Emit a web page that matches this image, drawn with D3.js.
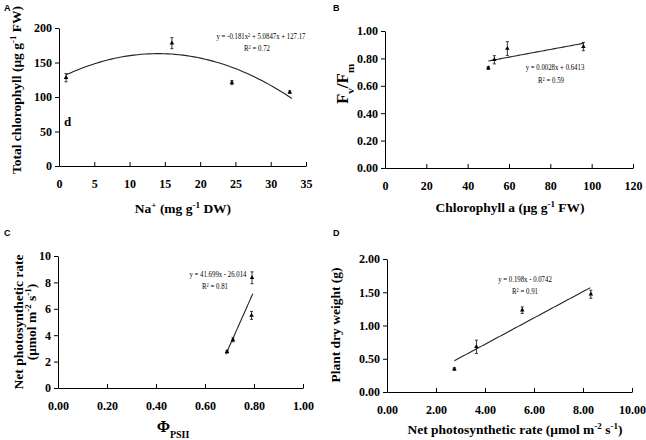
<!DOCTYPE html>
<html><head><meta charset="utf-8">
<script src="https://cdn.jsdelivr.net/npm/d3@7"></script>
<style>
body{margin:0;background:#fff;}
svg{display:block;}
text{font-family:"Liberation Serif","Times New Roman",serif;fill:#000;}
.tick text{font-family:"Liberation Serif","Times New Roman",serif;font-weight:bold;font-size:12px;}
.ttl{font-weight:bold;font-size:13.5px;}
.eq{font-size:8.5px;}
.lbl{font-family:"Liberation Sans",Arial,sans-serif !important;font-weight:bold;font-size:9px;}
</style></head><body>
<script>
// Panel A: Na+ vs total chlorophyll
const aX = [1.0, 16.0, 24.5, 32.7];
const aY = [128, 178, 121, 107];
const aErr = [6, 8, 3, 2];
const aCoef = [-0.181, 5.0847, 127.17];
const aXTicks = [0,5,10,15,20,25,30,35];
const aYTicks = [0,50,100,150,200];
// Panel B: chlorophyll a vs Fv/Fm
const bX = [50.0, 52.9, 59.2, 96.0];
const bY = [0.730, 0.790, 0.872, 0.886];
const bErr = [0.01, 0.03, 0.05, 0.03];
const bCoef = [0.0028, 0.6413];
const bXTicks = [0,20,40,60,80,100,120];
const bYTicks = [0,0.2,0.4,0.6,0.8,1.0];
// Panel C: PhiPSII vs net photosynthetic rate
const cX = [0.69, 0.714, 0.79, 0.792];
const cY = [2.75, 3.65, 5.5, 8.35];
const cErr = [0.1, 0.15, 0.3, 0.45];
const cCoef = [41.699, -26.014];
const cXTicks = [0,0.2,0.4,0.6,0.8,1.0];
const cYTicks = [0,2,4,6,8,10];
// Panel D: net photosynthetic rate vs plant dry weight
const dX = [2.75, 3.65, 5.52, 8.32];
const dY = [0.345, 0.68, 1.23, 1.47];
const dErr = [0.02, 0.1, 0.05, 0.06];
const dCoef = [0.198, -0.0742];
const dXTicks = [0,2,4,6,8,10];
const dYTicks = [0,0.5,1.0,1.5,2.0];

const svg = d3.select("body").append("svg").attr("width",646).attr("height",440);

function addParts(t, parts, supSize){
  parts.forEach(pp=>{
    const s = t.append("tspan").text(pp[0]);
    if(pp[1]==="sup") s.attr("baseline-shift","super").attr("font-size",supSize);
    if(pp[1]==="sub") s.attr("baseline-shift","sub").attr("font-size",supSize);
  });
}

function panel(o){
  const g = svg.append("g");
  const x = d3.scaleLinear().domain(o.xd).range([o.x0,o.x1]);
  const y = d3.scaleLinear().domain(o.yd).range([o.y0,o.y1]);
  const xa = g.append("g").attr("transform",`translate(0,${o.y0})`)
    .call(d3.axisBottom(x).tickValues(o.xt).tickFormat(o.xf).tickSizeInner(-4).tickSizeOuter(0).tickPadding(13));
  xa.attr("font-family",null);
  xa.select(".domain").attr("stroke","#000");
  const ya = g.append("g").attr("transform",`translate(${o.x0},0)`)
    .call(d3.axisLeft(y).tickValues(o.yt).tickFormat(o.yf).tickSizeInner(4).tickSizeOuter(0).tickPadding(3));
  ya.attr("font-family",null);
  ya.select(".domain").attr("stroke","#000");
  const xs = d3.range(0,61).map(i=>o.fx[0]+(o.fx[1]-o.fx[0])*i/60);
  g.append("path").datum(xs)
    .attr("d",d3.line().x(v=>x(v)).y(v=>y(o.fit(v))))
    .attr("fill","none").attr("stroke","#222").attr("stroke-width",1.1);
  const pts = o.px.map((v,i)=>({x:v,y:o.py[i],e:o.pe[i]}));
  const eb = g.append("g").attr("stroke","#222").attr("stroke-width",0.9);
  pts.forEach(p=>{
    eb.append("line").attr("x1",x(p.x)).attr("x2",x(p.x)).attr("y1",y(p.y-p.e)).attr("y2",y(p.y+p.e));
    [p.y-p.e,p.y+p.e].forEach(v=>eb.append("line").attr("x1",x(p.x)-1.5).attr("x2",x(p.x)+1.5).attr("y1",y(v)).attr("y2",y(v)));
  });
  g.selectAll("path.pt").data(pts).join("path").attr("class","pt")
    .attr("d",d3.symbol(d3.symbolTriangle,9))
    .attr("transform",p=>`translate(${x(p.x)},${y(p.y)})`).attr("fill","#000");
  o.eq.forEach(e=>{
    const t = g.append("text").attr("class","eq").attr("text-anchor","middle")
      .attr("transform",`translate(${e.x},${e.y}) scale(0.8,1)`);
    e.parts.forEach(pp=>{
      const s = t.append("tspan").text(pp[0]);
      if(pp[1]) s.attr("baseline-shift","super").attr("font-size","5.5px");
    });
  });
  const xt = g.append("text").attr("class","ttl").attr("text-anchor","middle")
    .attr("x",o.xtp[0]).attr("y",o.xtp[1]);
  if(o.xts) xt.style("font-size",o.xts);
  addParts(xt, o.xtitle, o.xsup || "9px");
  o.ytitle.forEach((line,li)=>{
    const yt = g.append("text").attr("class","ttl").attr("text-anchor","middle")
      .attr("transform",`translate(${o.ytp[0]+li*12.5},${o.ytp[1]}) rotate(-90)`);
    if(o.yts) yt.style("font-size",o.yts);
    addParts(yt, line, o.ysup || "9px");
  });
  svg.append("text").attr("class","lbl").attr("x",o.lbl[1]).attr("y",o.lbl[2]).text(o.lbl[0]);
  return {g,x,y};
}

const f2 = d3.format(".2f");

const A = panel({xd:[0,35],yd:[0,200],x0:59,x1:306,y0:166,y1:28,xt:aXTicks,yt:aYTicks,
  xf:d3.format("d"),yf:d3.format("d"),
  px:aX,py:aY,pe:aErr,fx:[1,33],fit:v=>aCoef[0]*v*v+aCoef[1]*v+aCoef[2],
  eq:[{x:261,y:39,parts:[["y = -0.181x"],["2",1],[" + 5.0847x + 127.17"]]},{x:257,y:51,parts:[["R"],["2",1],[" = 0.72"]]}],
  xtitle:[["Na"],["+","sup"],[" (mg g"],["-1","sup"],[" DW)"]],xtp:[183,213],
  ytitle:[[["Total chlorophyll (μg g"],["-1","sup"],[" FW)"]]],ytp:[21,90],
  lbl:["A",4,11]});
A.g.append("text").attr("font-weight","bold").attr("font-size","13px")
  .attr("x",A.x(1)-2).attr("y",A.y(58)).text("d");

panel({xd:[0,120],yd:[0,1],x0:385,x1:633,y0:168,y1:31,xt:bXTicks,yt:bYTicks,
  xf:d3.format("d"),yf:f2,
  px:bX,py:bY,pe:bErr,fx:[50,96],fit:v=>bCoef[0]*v+bCoef[1],
  eq:[{x:555,y:70,parts:[["y = 0.0028x + 0.6413"]]},{x:551,y:83,parts:[["R"],["2",1],[" = 0.59"]]}],
  xtitle:[["Chlorophyll a (μg g"],["-1","sup"],[" FW)"]],xtp:[510,212],
  ytitle:[[["F"],["v","sub"],["/F"],["m","sub"]]],ytp:[348,84],yts:"17px",ysup:"11px",
  lbl:["B",333,11]});

panel({xd:[0,1],yd:[0,10],x0:58,x1:303,y0:388,y1:256,xt:cXTicks,yt:cYTicks,
  xf:f2,yf:d3.format("d"),
  px:cX,py:cY,pe:cErr,fx:[0.685,0.795],fit:v=>cCoef[0]*v+cCoef[1],
  eq:[{x:218,y:277,parts:[["y = 41.699x - 26.014"]]},{x:215,y:289,parts:[["R"],["2",1],[" = 0.81"]]}],
  xtitle:[["Φ"],["PSII","sub"]],xtp:[173,432],xts:"16px",xsup:"10px",
  ytitle:[[["Net photosynthetic rate"]],[["(μmol m"],["-2","sup"],[" s"],["-1","sup"],[")"]]],ytp:[23,322],
  lbl:["C",4,236]});

panel({xd:[0,10],yd:[0,2],x0:387,x1:632,y0:392,y1:259,xt:dXTicks,yt:dYTicks,
  xf:f2,yf:f2,
  px:dX,py:dY,pe:dErr,fx:[2.75,8.3],fit:v=>dCoef[0]*v+dCoef[1],
  eq:[{x:525,y:282,parts:[["y = 0.198x - 0.0742"]]},{x:525,y:294,parts:[["R"],["2",1],[" = 0.91"]]}],
  xtitle:[["Net photosynthetic rate (μmol m"],["-2","sup"],[" s"],["-1","sup"],[")"]],xtp:[515,434],
  ytitle:[[["Plant dry weight (g)"]]],ytp:[340,325],
  lbl:["D",333,236]});
</script>
</body></html>
